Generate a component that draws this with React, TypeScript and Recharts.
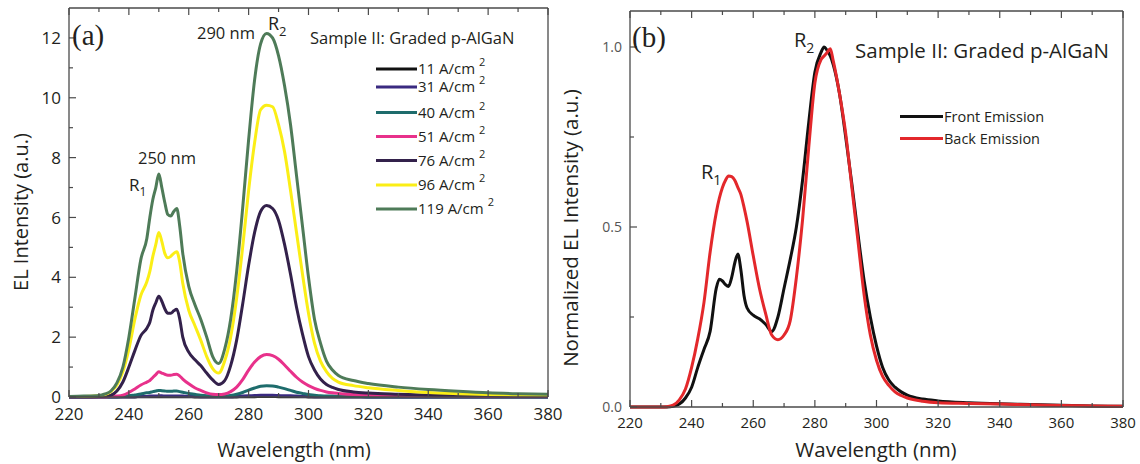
import { LineChart, Line, XAxis, YAxis } from "recharts";

// ---- panel (a): EL spectra vs current density ----
const wlA = [
  220, 225, 230, 232, 234, 236, 238, 240, 242, 244, 246, 247, 248, 249, 250, 251, 252, 253, 254,
  255, 256, 257, 258, 260, 262, 264, 266, 268, 270, 272, 274, 276, 278, 280, 282, 284, 286, 288,
  290, 292, 294, 296, 298, 300, 302, 304, 306, 308, 310, 315, 320, 330, 340, 350, 360, 370, 380,
];
const a11 = [
  0, 0, 0, 0, 0, 0, 0, 0, 0, 0.01, 0.01, 0.01, 0.01, 0.01, 0.01, 0.01, 0.01, 0.01, 0.01, 0.01,
  0.01, 0.01, 0.01, 0.01, 0, 0, 0, 0, 0, 0, 0, 0, 0.01, 0.01, 0.01, 0.02, 0.02, 0.02, 0.01, 0.01,
  0.01, 0.01, 0.01, 0, 0, 0, 0, 0, 0, 0, 0, 0, 0, 0, 0, 0, 0,
];
const a31 = [
  0, 0, 0, 0, 0, 0, 0.01, 0.01, 0.01, 0.02, 0.02, 0.03, 0.03, 0.03, 0.04, 0.04, 0.03, 0.03, 0.03,
  0.03, 0.03, 0.03, 0.03, 0.02, 0.02, 0.01, 0.01, 0.01, 0.01, 0.01, 0.01, 0.02, 0.03, 0.04, 0.05,
  0.06, 0.06, 0.06, 0.05, 0.04, 0.04, 0.03, 0.02, 0.02, 0.01, 0.01, 0.01, 0.01, 0.01, 0.01, 0, 0,
  0, 0, 0, 0, 0,
];
const a40 = [
  0, 0, 0.01, 0.01, 0.01, 0.01, 0.02, 0.04, 0.07, 0.1, 0.14, 0.15, 0.18, 0.2, 0.22, 0.21, 0.2,
  0.19, 0.19, 0.2, 0.2, 0.18, 0.16, 0.12, 0.09, 0.06, 0.04, 0.03, 0.02, 0.03, 0.05, 0.09, 0.15,
  0.23, 0.3, 0.36, 0.38, 0.37, 0.33, 0.28, 0.22, 0.16, 0.12, 0.08, 0.06, 0.04, 0.03, 0.03, 0.02,
  0.02, 0.01, 0.01, 0.01, 0.01, 0.01, 0.01, 0.01,
];
const a51 = [
  0.01, 0.01, 0.01, 0.01, 0.02, 0.03, 0.06, 0.15, 0.27, 0.4, 0.5, 0.55, 0.65, 0.75, 0.84, 0.8,
  0.76, 0.73, 0.73, 0.75, 0.76, 0.7, 0.6, 0.44, 0.31, 0.22, 0.14, 0.09, 0.08, 0.1, 0.18, 0.33,
  0.58, 0.9, 1.17, 1.35, 1.42, 1.38, 1.26, 1.07, 0.86, 0.66, 0.5, 0.38, 0.29, 0.22, 0.17, 0.14,
  0.12, 0.08, 0.06, 0.04, 0.03, 0.03, 0.02, 0.02, 0.02,
];
const a76 = [
  0.01, 0.01, 0.02, 0.03, 0.06, 0.2, 0.5, 1.0, 1.55, 2.05, 2.3, 2.5, 2.9, 3.15, 3.37, 3.2, 2.95,
  2.8, 2.8, 2.88, 2.93, 2.6, 2.0, 1.5, 1.25, 1.05, 0.8, 0.57, 0.42, 0.55, 1.05, 1.9, 3.1, 4.4, 5.5,
  6.2, 6.4, 6.3, 5.9, 5.1, 4.1, 3.0, 2.1, 1.35, 0.9, 0.6, 0.42, 0.32, 0.25, 0.17, 0.13, 0.09, 0.06,
  0.05, 0.04, 0.03, 0.03,
];
const a96 = [
  0.02, 0.02, 0.04, 0.08, 0.18, 0.4, 0.85, 1.6, 2.6, 3.4, 3.85, 4.2, 4.7, 5.1, 5.5, 5.2, 4.8, 4.65,
  4.7, 4.8, 4.85, 4.5, 3.8, 2.9, 2.4, 1.9, 1.35, 0.95, 0.8, 1.2, 2.0, 3.3, 5.0, 6.9, 8.5, 9.6, 9.75,
  9.7, 9.1, 8.2, 6.9, 5.5, 4.1, 2.8, 1.8, 1.2, 0.85, 0.62, 0.5, 0.38, 0.31, 0.22, 0.15, 0.11, 0.08,
  0.06, 0.05,
];
const a119 = [
  0.02, 0.03, 0.05, 0.1, 0.2, 0.47, 1.0, 2.0, 3.3, 4.6, 5.3, 6.0, 6.6, 7.0, 7.45, 7.0, 6.5, 6.1,
  6.05, 6.2, 6.3, 5.7, 4.8, 3.7, 3.1, 2.6, 2.0, 1.35, 1.12, 1.6, 2.6, 4.2, 6.3, 8.6, 10.6, 11.8,
  12.15, 12.0, 11.4, 10.4, 9.1, 7.4, 5.7, 4.0, 2.6, 1.8, 1.2, 0.9, 0.72, 0.55, 0.45, 0.33, 0.25,
  0.19, 0.14, 0.11, 0.09,
];

// ---- panel (b): normalized front / back emission ----
const wlB = [
  220, 226, 230, 232, 234, 236, 238, 240, 242, 244, 246, 248, 249, 250, 251, 252, 253, 254, 255,
  256, 257, 258, 260, 262, 264, 266, 268, 270, 272, 274, 276, 278, 280, 282, 283, 284, 285, 286,
  288, 290, 292, 294, 296, 298, 300, 302, 304, 306, 308, 310, 315, 320, 330, 340, 350, 360, 370, 380,
];
const frontEm = [
  0, 0, 0, 0, 0.002, 0.008, 0.025, 0.055, 0.11, 0.16, 0.21, 0.33, 0.355, 0.35, 0.34, 0.335, 0.36,
  0.4, 0.425, 0.38, 0.31, 0.275, 0.255, 0.245, 0.23, 0.21, 0.25, 0.33, 0.41, 0.5, 0.63, 0.79, 0.93,
  0.985, 1.0, 0.99, 0.975, 0.95, 0.87, 0.75, 0.62, 0.48, 0.35, 0.25, 0.17, 0.11, 0.075, 0.055,
  0.042, 0.033, 0.022, 0.017, 0.012, 0.009, 0.007, 0.005, 0.003, 0.002,
];
const backEm = [
  0, 0, 0, 0.001, 0.005, 0.02, 0.05, 0.11, 0.19, 0.29, 0.43, 0.54, 0.58, 0.61, 0.63, 0.642, 0.64,
  0.63, 0.61, 0.59, 0.555, 0.515, 0.42, 0.33, 0.26, 0.2, 0.187, 0.2, 0.24, 0.36, 0.52, 0.72, 0.9,
  0.965, 0.975, 0.985, 0.995, 0.96, 0.87, 0.76, 0.61, 0.46, 0.31, 0.2, 0.13, 0.085, 0.06, 0.042,
  0.032, 0.025, 0.016, 0.012, 0.01, 0.008, 0.006, 0.004, 0.003, 0.002,
];

const xTicks = [220, 230, 240, 250, 260, 270, 280, 290, 300, 310, 320, 330, 340, 350, 360, 370, 380];
const yTicksA = [0, 1, 2, 3, 4, 5, 6, 7, 8, 9, 10, 11, 12];
const yTicksB = [0, 0.25, 0.5, 0.75, 1.0];

const seriesA = [
  { key: "s11", label: "11 A/cm", color: "#121212", values: a11 },
  { key: "s31", label: "31 A/cm", color: "#3a2a80", values: a31 },
  { key: "s40", label: "40 A/cm", color: "#1e6c6c", values: a40 },
  { key: "s51", label: "51 A/cm", color: "#e8318b", values: a51 },
  { key: "s76", label: "76 A/cm", color: "#33214b", values: a76 },
  { key: "s96", label: "96 A/cm", color: "#fbee16", values: a96 },
  { key: "s119", label: "119 A/cm", color: "#4e7b58", values: a119 },
];
const seriesB = [
  { key: "front", label: "Front Emission", color: "#111111", values: frontEm },
  { key: "back", label: "Back Emission", color: "#e3282b", values: backEm },
];

const rowsA = wlA.map((w, i) => {
  const row: Record<string, number> = { w };
  seriesA.forEach((s) => (row[s.key] = s.values[i]));
  return row;
});
const rowsB = wlB.map((w, i) => {
  const row: Record<string, number> = { w };
  seriesB.forEach((s) => (row[s.key] = s.values[i]));
  return row;
});

const AXIS = "#4a4a4a";
const INK = "#231f20";
const SANS = "'Open Sans', 'Noto Sans', sans-serif";
const SERIF = "'Liberation Serif', 'DejaVu Serif', serif";

// ticks drawn inside the frame; labels only on the majors
function bottomTick(fontSize: number, labelDy: number) {
  return (p: any) => {
    const major = p.payload.value % 20 === 0;
    return (
      <g>
        <line x1={p.x} y1={p.y} x2={p.x} y2={p.y - (major ? 7 : 4)} stroke={AXIS} strokeWidth={1.2} />
        {major && (
          <text x={p.x} y={p.y + labelDy} textAnchor="middle" fontSize={fontSize} fill={INK} fontFamily={SANS}>
            {p.payload.value}
          </text>
        )}
      </g>
    );
  };
}
const topTick = (p: any) => {
  const major = p.payload.value % 20 === 0;
  return <line x1={p.x} y1={p.y} x2={p.x} y2={p.y + (major ? 7 : 4)} stroke={AXIS} strokeWidth={1.2} />;
};
function leftTick(step: number, fontSize: number, fill: string, fmt: (v: number) => string) {
  return (p: any) => {
    const major = p.payload.value % step === 0;
    return (
      <g>
        <line x1={p.x} y1={p.y} x2={p.x + (major ? 7 : 4)} y2={p.y} stroke={AXIS} strokeWidth={1.2} />
        {major && (
          <text x={p.x - 8} y={p.y} dy="0.36em" textAnchor="end" fontSize={fontSize} fill={fill} fontFamily={SANS}>
            {fmt(p.payload.value)}
          </text>
        )}
      </g>
    );
  };
}

function Frame({ yMax, yTicks, tickA, tickB }: any) {
  return [
    <XAxis key="xb" dataKey="w" type="number" domain={[220, 380]} ticks={xTicks} interval={0}
      tickSize={0} tickMargin={0} tickLine={false} tick={tickB} height={30}
      axisLine={{ stroke: AXIS, strokeWidth: 1.3 }} />,
    <XAxis key="xt" xAxisId="top" orientation="top" dataKey="w" type="number" domain={[220, 380]}
      ticks={xTicks} interval={0} tickSize={0} tickMargin={0} tickLine={false} tick={topTick}
      height={5} axisLine={{ stroke: AXIS, strokeWidth: 1.3 }} />,
    <YAxis key="yl" type="number" domain={[0, yMax]} ticks={yTicks} interval={0} tickSize={0}
      tickMargin={0} tickLine={false} tick={tickA} width={50}
      axisLine={{ stroke: AXIS, strokeWidth: 1.3 }} />,
    <YAxis key="yr" yAxisId="r" orientation="right" type="number" domain={[0, 1]} tick={false}
      tickLine={false} width={5} axisLine={{ stroke: AXIS, strokeWidth: 1.3 }} />,
  ];
}

export default function App() {
  const legA = [69, 87, 112.5, 136.5, 160.5, 185, 209];
  const legB = [116.5, 138.5];
  return (
    <div style={{ position: "absolute", left: 0, top: 0, width: 1140, height: 464, background: "#fff", fontFamily: SANS }}>
      <div style={{ position: "absolute", left: 0, top: 0 }}>
        <LineChart width={580} height={464} data={rowsA} margin={{ top: 3, right: 27, bottom: 37, left: 19 }}>
          {Frame({ yMax: 13, yTicks: yTicksA, tickA: leftTick(2, 17, INK, (v) => String(v)), tickB: bottomTick(17, 23) })}
          {seriesA.map((s) => (
            <Line key={s.key} dataKey={s.key} type="monotone" stroke={s.color} strokeWidth={3}
              dot={false} activeDot={false} isAnimationActive={false} />
          ))}
        </LineChart>
      </div>
      <div style={{ position: "absolute", left: 560, top: 0 }}>
        <LineChart width={580} height={464} data={rowsB} margin={{ top: 6, right: 12, bottom: 27, left: 20 }}>
          {Frame({ yMax: 1.1, yTicks: yTicksB, tickA: leftTick(0.5, 14, "#555", (v) => v.toFixed(1)), tickB: bottomTick(15, 21) })}
          {seriesB.map((s) => (
            <Line key={s.key} dataKey={s.key} type="monotone" stroke={s.color} strokeWidth={3}
              dot={false} activeDot={false} isAnimationActive={false} />
          ))}
        </LineChart>
      </div>

      <svg width={1140} height={464} style={{ position: "absolute", left: 0, top: 0, pointerEvents: "none" }}
        fontFamily={SANS} fill={INK}>
        {/* panel (a) */}
        <text x={72} y={45} fontFamily={SERIF} fontSize={29}>(a)</text>
        <text x={197} y={39} fontSize={16.5}>290 nm</text>
        <text x={268} y={30} fontSize={18}>R<tspan fontSize={13} dy={6}>2</tspan></text>
        <text x={138} y={164} fontSize={16.5}>250 nm</text>
        <text x={129} y={191} fontSize={17}>R<tspan fontSize={12} dy={5}>1</tspan></text>
        <text x={310} y={44} fontSize={16.5}>Sample II: Graded p-AlGaN</text>
        {seriesA.map((s, i) => (
          <g key={s.key}>
            <line x1={376} x2={417} y1={legA[i]} y2={legA[i]} stroke={s.color} strokeWidth={3} />
            <text x={418} y={legA[i]} dy="0.36em" fontSize={15}>
              {s.label}
              <tspan fontSize={11} dx={4} dy={-8}>2</tspan>
            </text>
          </g>
        ))}
        <text transform="translate(21,212) rotate(-90)" textAnchor="middle" dy="0.36em" fontSize={20}>
          EL Intensity (a.u.)
        </text>
        <text x={294} y={450} textAnchor="middle" dy="0.36em" fontSize={19.5}>Wavelength (nm)</text>

        {/* panel (b) */}
        <text x={632} y={47} fontFamily={SERIF} fontSize={29}>(b)</text>
        <text x={794} y={47} fontSize={20}>R<tspan fontSize={14} dy={6}>2</tspan></text>
        <text x={701} y={179} fontSize={20}>R<tspan fontSize={14} dy={6}>1</tspan></text>
        <text x={855} y={58} fontSize={20.5}>Sample II: Graded p-AlGaN</text>
        {seriesB.map((s, i) => (
          <g key={s.key}>
            <line x1={900} x2={943} y1={legB[i]} y2={legB[i]} stroke={s.color} strokeWidth={3} />
            <text x={944} y={legB[i]} dy="0.36em" fontSize={14.5}>{s.label}</text>
          </g>
        ))}
        <text transform="translate(571,228) rotate(-90)" textAnchor="middle" dy="0.36em" fontSize={20.5}>
          Normalized EL Intensity (a.u.)
        </text>
        <text x={876} y={450} textAnchor="middle" dy="0.36em" fontSize={20.5}>Wavelength (nm)</text>
      </svg>
    </div>
  );
}
